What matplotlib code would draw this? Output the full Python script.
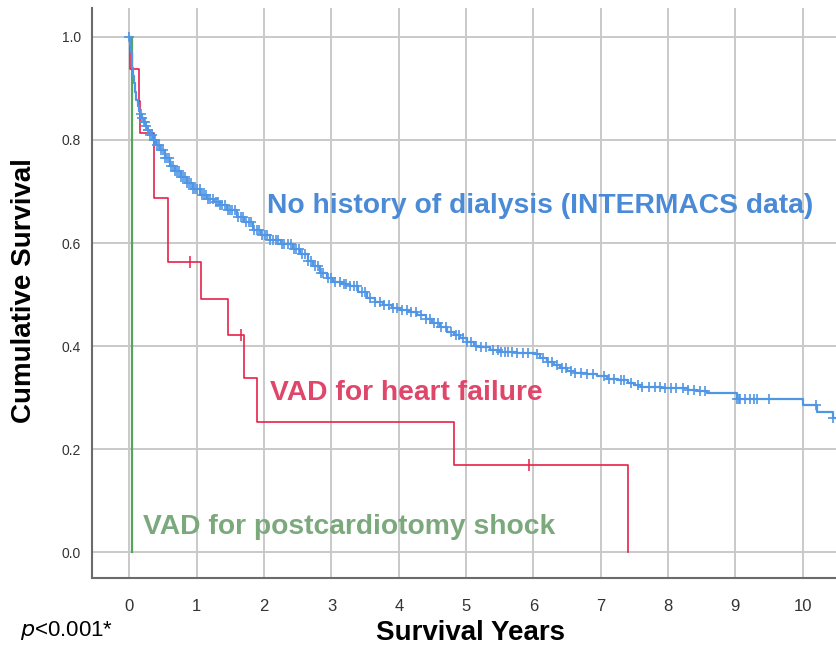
"""Kaplan-Meier style survival curves: dialysis history vs VAD groups."""

import matplotlib

matplotlib.use("Agg")
import matplotlib.pyplot as plt
import numpy as np
from matplotlib import font_manager

# ---- data ----
# no history of dialysis (INTERMACS): step knots (years, survival)
blue_t = [0.0, 0.01, 0.02, 0.03, 0.04, 0.05, 0.06, 0.08, 0.10, 0.12, 0.14, 0.16,
          0.19, 0.21, 0.24, 0.26, 0.30, 0.35, 0.40,
          0.45, 0.52, 0.60, 0.68, 0.76, 0.85, 0.95, 1.05, 1.15, 1.25, 1.34, 1.45,
          1.59, 1.70, 1.84, 1.95, 2.09, 2.25, 2.43, 2.53, 2.65, 2.73, 2.83, 2.93,
          3.03, 3.15, 3.28, 3.40, 3.53, 3.65, 3.77, 3.90, 4.02, 4.15, 4.27, 4.40,
          4.50, 4.61, 4.72, 4.82, 4.91, 5.02, 5.12, 5.20, 5.35, 5.50, 5.75, 6.02,
          6.10, 6.20, 6.30, 6.40, 6.50, 6.62, 6.80, 6.95, 7.10, 7.25, 7.40, 7.50,
          7.60, 7.90, 8.30, 8.43, 8.58, 9.02, 10.0, 10.21, 10.45, 10.6]
blue_s = [1.0, 0.985, 0.97, 0.955, 0.94, 0.925, 0.91, 0.893, 0.878, 0.866, 0.857, 0.85,
          0.842, 0.835, 0.827, 0.82, 0.81, 0.80, 0.79,
          0.78, 0.765, 0.75, 0.74, 0.728, 0.716, 0.704, 0.693, 0.686, 0.68, 0.674, 0.665,
          0.651, 0.64, 0.625, 0.616, 0.606, 0.598, 0.588, 0.578, 0.565, 0.556, 0.542, 0.532,
          0.524, 0.521, 0.516, 0.505, 0.493, 0.486, 0.48, 0.474, 0.47, 0.466, 0.46, 0.452,
          0.445, 0.437, 0.428, 0.422, 0.416, 0.408, 0.401, 0.398, 0.393, 0.388, 0.386, 0.384,
          0.377, 0.37, 0.363, 0.357, 0.351, 0.348, 0.346, 0.341, 0.337, 0.334, 0.329, 0.324,
          0.32, 0.318, 0.315, 0.313, 0.308, 0.298, 0.285, 0.272, 0.26, 0.26]
blue_cens = [0.0, 0.17, 0.19, 0.21, 0.23, 0.25, 0.27,
             0.28, 0.30, 0.33, 0.36, 0.38, 0.41, 0.44, 0.47, 0.50, 0.53, 0.56,
             0.59, 0.62, 0.65, 0.68, 0.71, 0.74, 0.77, 0.80, 0.83, 0.86, 0.89, 0.92,
             0.95, 0.98, 1.01, 1.04, 1.07, 1.10, 1.13, 1.16, 1.20, 1.24, 1.28, 1.31,
             1.35, 1.38, 1.42, 1.46, 1.50, 1.53, 1.57, 1.61, 1.65, 1.69, 1.73, 1.77,
             1.81, 1.85, 1.89, 1.93, 1.97, 2.01, 2.05, 2.09, 2.13, 2.17, 2.21, 2.26,
             2.30, 2.35, 2.40, 2.44, 2.48, 2.52, 2.56, 2.60, 2.65, 2.70, 2.75, 2.80,
             2.85, 2.88, 2.95, 3.00, 3.06, 3.12, 3.18, 3.22, 3.28, 3.33, 3.38, 3.45,
             3.50, 3.58, 3.65, 3.72, 3.78, 3.85, 3.92, 3.98, 4.05, 4.12, 4.18, 4.25,
             4.33, 4.40, 4.47, 4.52, 4.58, 4.63, 4.70, 4.78, 4.85, 4.90, 4.95, 5.02,
             5.08, 5.15, 5.22, 5.30, 5.40, 5.47, 5.52, 5.58, 5.63, 5.68, 5.75, 5.85,
             5.92, 6.05, 6.15, 6.22, 6.28, 6.35, 6.42, 6.48, 6.56, 6.62, 6.70, 6.80,
             6.88, 7.05, 7.12, 7.20, 7.30, 7.35, 7.45, 7.55, 7.62, 7.72, 7.80, 7.88,
             7.95, 8.05, 8.12, 8.22, 8.30, 8.38, 8.48, 8.55, 9.03, 9.05, 9.07, 9.15,
             9.22, 9.27, 9.32, 9.50, 10.2, 10.45]

# VAD for heart failure
red_t = [0.0, 0.01, 0.14, 0.16, 0.36, 0.57, 1.06, 1.46, 1.70, 1.89, 4.82, 7.41]
red_s = [1.0, 0.9375, 0.875, 0.8125, 0.6875, 0.5625, 0.4922, 0.4219, 0.3375,
         0.2531, 0.1688, 0.0]
red_cens = [0.90, 1.65, 5.93]

# VAD for postcardiotomy shock
green_t = [0.0, 0.04]
green_s = [1.0, 0.0]

labels = ["No history of dialysis (INTERMACS data)", "VAD for heart failure",
          "VAD for postcardiotomy shock"]

BLUE, BLUE_TXT = "#5096e4", "#4a8ad6"
RED, RED_TXT = "#e8214a", "#e0466a"
GREEN, GREEN_TXT = "#55a65a", "#7ba97c"

installed = {f.name for f in font_manager.fontManager.ttflist}
sans = "Liberation Sans" if "Liberation Sans" in installed else "DejaVu Sans"
narrow = "Liberation Sans Narrow" if "Liberation Sans Narrow" in installed else sans
plt.rcParams["font.family"] = [sans, "DejaVu Sans"]


def step_value(t, s, x):
    idx = np.searchsorted(np.asarray(t), np.asarray(x), side="right") - 1
    return np.asarray(s)[np.clip(idx, 0, len(s) - 1)]


fig = plt.figure(figsize=(8.37, 6.46), dpi=100)
ax = fig.add_axes([92 / 837, 68 / 646, 745 / 837, 570 / 646])

ax.set_xlim(-0.557, 10.51)
ax.set_ylim(-0.05, 1.056)
ax.set_xticks(range(0, 11))
ax.set_yticks(np.arange(0, 1.01, 0.2))
ax.set_yticklabels([f"{v:.1f}" for v in np.arange(0, 1.01, 0.2)])
ax.grid(True, color="#c9c9c9", linewidth=1.4, zorder=0)
ax.set_axisbelow(True)
for side in ("top", "right"):
    ax.spines[side].set_visible(False)
for side in ("left", "bottom"):
    ax.spines[side].set_color("#6b6b6b")
    ax.spines[side].set_linewidth(1.5)
ax.tick_params(axis="both", length=0, colors="#333333")
ax.tick_params(axis="x", pad=15, labelsize=12)
ax.tick_params(axis="y", pad=8, labelsize=10)
for lab in ax.get_xticklabels():
    lab.set_family(narrow)

# curves
ax.step(green_t, green_s, where="post", color=GREEN, linewidth=1.6, zorder=3)
ax.step(red_t, red_s, where="post", color=RED, linewidth=1.2, zorder=4)
ax.step(blue_t, blue_s, where="post", color=BLUE, linewidth=1.6, zorder=5)

# censor marks
ax.plot(blue_cens, step_value(blue_t, blue_s, blue_cens), linestyle="none",
        marker="+", markersize=7, markeredgewidth=1.2, color=BLUE, zorder=6)
ax.plot(red_cens, step_value(red_t, red_s, red_cens), linestyle="none",
        marker="|", markersize=8, markeredgewidth=1.1, color=RED, zorder=6)

# curve labels
ax.text(2.04, 0.672, labels[0], color=BLUE_TXT, fontsize=20.3, fontweight="bold",
        ha="left", va="center")
ax.text(2.09, 0.309, labels[1], color=RED_TXT, fontsize=20.3, fontweight="bold",
        ha="left", va="center")
ax.text(0.20, 0.049, labels[2], color=GREEN_TXT, fontsize=20.3, fontweight="bold",
        ha="left", va="center")

fig.text(24 / 837, 1 - 291 / 646, "Cumulative Survival", rotation=90, fontsize=20,
         fontweight="bold", ha="center", va="center")
fig.text(471 / 837, 1 - 633 / 646, "Survival Years", fontsize=20,
         fontweight="bold", ha="center", va="center")
fig.text(20 / 837, 1 - 631 / 646, r"$\it{p}$<0.001*", fontsize=16,
         ha="left", va="center")

fig.savefig("out.png", dpi=100)
